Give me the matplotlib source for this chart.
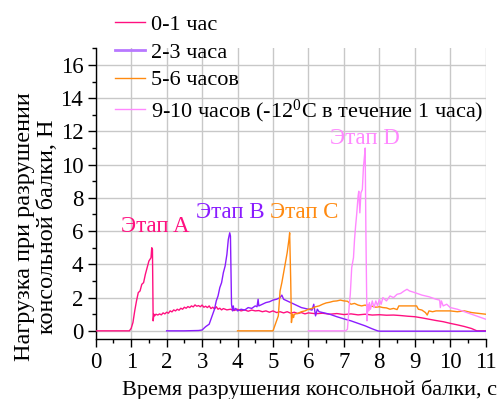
import matplotlib
matplotlib.use("Agg")
import matplotlib.pyplot as plt
from matplotlib.ticker import MultipleLocator

plt.rcParams['font.family'] = 'serif'
plt.rcParams['font.serif'] = ['Liberation Serif', 'Times New Roman', 'DejaVu Serif']
plt.rcParams['mathtext.fontset'] = 'custom'
plt.rcParams['mathtext.rm'] = 'Liberation Serif'
plt.rcParams['mathtext.default'] = 'regular'

labels = ["0-1 час", "2-3 часа", "5-6 часов", "9-10 часов (-12$^0$C в течение 1 часа)"]
colors = ["#ff1080", "#8a1cff", "#ff8a10", "#ff88ff"]
stage_labels = ["Этап A", "Этап B", "Этап C", "Этап D"]
stage_x = [1.68, 3.79, 5.89, 7.58]
stage_y = [6.3, 7.1, 7.1, 11.6]

x1 = [0, 0.95, 1.0, 1.05, 1.1, 1.15, 1.2, 1.25, 1.3, 1.35, 1.4, 1.45, 1.5, 1.53, 1.56, 1.58, 1.6, 1.62, 1.64, 1.66,
      1.7, 1.75, 1.8, 1.85, 1.9, 1.95, 2.0, 2.05, 2.1, 2.15, 2.2, 2.25, 2.3, 2.35, 2.4, 2.45, 2.5, 2.55, 2.6, 2.65,
      2.7, 2.75, 2.8, 2.85, 2.9, 2.95, 3.0, 3.05, 3.1, 3.15, 3.2, 3.25, 3.3, 3.35, 3.4, 3.45, 3.5, 3.55, 3.6, 3.7,
      3.8, 3.9, 4.0, 4.1, 4.2, 4.3, 4.4, 4.5, 4.6, 4.7, 4.8, 4.9, 5.0, 5.1, 5.2, 5.3, 5.4, 5.5, 5.6, 5.7, 5.8, 5.9,
      6.0, 6.2, 6.4, 6.6, 6.8, 7.0, 7.2, 7.4, 7.6, 7.8, 8.0, 8.2, 8.4, 8.6, 8.8, 9.0, 9.2, 9.4, 9.6, 9.8, 10.0,
      10.2, 10.4, 10.6, 10.75, 11.0]
y1 = [0, 0, 0.15, 0.5, 1.2, 1.8, 2.3, 2.4, 2.8, 2.9, 3.4, 3.8, 4.2, 4.3, 4.4, 5.0, 4.9, 0.6, 1.0, 0.9,
      1.0, 0.95, 1.02, 0.96, 1.08, 1.02, 1.12, 1.06, 1.2, 1.14, 1.26, 1.2, 1.3, 1.24, 1.36, 1.3, 1.42, 1.36, 1.46, 1.4,
      1.5, 1.44, 1.56, 1.48, 1.52, 1.45, 1.55, 1.42, 1.48, 1.4, 1.5, 1.34, 1.42, 1.32, 1.45, 1.3, 1.36, 1.26, 1.34, 1.26,
      1.3, 1.22, 1.3, 1.2, 1.26, 1.18, 1.25, 1.2, 1.22, 1.15, 1.2, 1.12, 1.2, 1.1, 1.15, 1.08, 1.15, 1.06, 1.12, 1.04, 1.1, 1.02,
      1.08, 1.03, 1.06, 1.0, 1.04, 0.98, 1.02, 0.96, 1.0, 0.95, 0.97, 0.94, 0.95, 0.92, 0.88, 0.85, 0.78, 0.7, 0.62, 0.55, 0.45,
      0.36, 0.26, 0.14, 0.0, 0.0]

x2 = [2.0, 2.5, 2.9, 3.0, 3.1, 3.2, 3.25, 3.3, 3.35, 3.4, 3.45, 3.5, 3.55, 3.6, 3.65, 3.7, 3.74, 3.78, 3.8, 3.83,
      3.86, 3.88, 3.9, 3.95, 4.0, 4.1, 4.2, 4.3, 4.4, 4.5, 4.55, 4.58, 4.6, 4.7, 4.8, 4.9, 5.0, 5.1, 5.2, 5.25,
      5.3, 5.4, 5.5, 5.6, 5.7, 5.8, 5.9, 6.0, 6.1, 6.15, 6.2, 6.25, 6.3, 6.4, 6.5, 6.6, 6.8, 7.0, 7.2, 7.4,
      7.6, 7.8, 7.95, 8.0, 9.0, 10.0, 11.0]
y2 = [0, 0, 0.02, 0.05, 0.25, 0.4, 0.7, 1.0, 1.3, 1.8, 2.1, 2.6, 2.9, 3.5, 3.9, 4.6, 5.5, 5.9, 5.7, 1.6,
      1.2, 1.5, 1.25, 1.35, 1.2, 1.3, 1.25, 1.4, 1.35, 1.5, 1.45, 1.9, 1.5, 1.6, 1.7, 1.75, 1.85, 1.9, 2.0, 2.15,
      1.9, 1.8, 1.7, 1.6, 1.5, 1.4, 1.35, 1.3, 1.25, 1.6, 0.9, 1.3, 1.15, 1.1, 1.05, 1.0, 0.85, 0.72, 0.6, 0.45,
      0.3, 0.12, 0.0, -0.02, -0.02, -0.02, -0.02]

x3 = [4.0, 5.0, 5.05, 5.1, 5.15, 5.2, 5.25, 5.3, 5.35, 5.4, 5.45, 5.47, 5.5, 5.52, 5.55, 5.58, 5.6, 5.7, 5.8, 5.9,
      6.0, 6.1, 6.2, 6.3, 6.4, 6.5, 6.6, 6.7, 6.8, 6.9, 7.0, 7.1, 7.2, 7.3, 7.4, 7.5, 7.6, 7.7, 7.8, 7.9,
      8.0, 8.1, 8.2, 8.3, 8.4, 8.5, 8.55, 8.7, 8.9, 9.05, 9.1, 9.2, 9.3, 9.35, 9.4, 9.5, 9.6, 9.8, 10.0, 10.2,
      10.4, 10.6, 10.8, 11.0]
y3 = [0, 0, 0.3, 0.6, 0.9, 2.4, 2.9, 3.5, 4.1, 4.7, 5.5, 5.9, 3.0, 0.5, 1.0, 0.8, 1.0, 1.05, 1.15, 1.2,
      1.3, 1.35, 1.45, 1.5, 1.6, 1.68, 1.72, 1.78, 1.8, 1.85, 1.8, 1.78, 1.6, 1.65, 1.55, 1.5, 1.55, 1.45, 1.48, 1.42,
      1.45, 1.4, 1.38, 1.3, 1.35, 1.28, 1.5, 1.5, 1.5, 1.5, 1.3, 1.25, 1.1, 0.95, 1.2, 1.15, 1.2, 1.2, 1.2, 1.15,
      1.2, 1.1, 1.05, 1.0]

x4 = [6.0, 7.05, 7.1, 7.15, 7.18, 7.22, 7.27, 7.3, 7.33, 7.36, 7.4, 7.42, 7.45, 7.48, 7.52, 7.55, 7.58, 7.6, 7.62, 7.65,
      7.68, 7.7, 7.72, 7.75, 7.8, 7.85, 7.9, 7.95, 8.0, 8.05, 8.1, 8.2, 8.3, 8.4, 8.5, 8.6, 8.7, 8.78, 8.85, 9.0,
      9.2, 9.4, 9.6, 9.7, 9.72, 9.75, 9.8, 9.9, 10.0, 10.2, 10.4, 10.6, 10.8, 11.0]
y4 = [0, 0, 0.1, 1.5, 2.2, 3.8, 4.4, 5.5, 6.3, 7.0, 8.1, 8.4, 7.1, 8.3, 8.5, 9.8, 10.5, 11.0, 6.0, 0.6,
      1.6, 1.2, 1.7, 1.3, 1.8, 1.4, 1.8, 1.5, 1.9, 1.6, 2.0, 1.8, 2.1, 2.0, 2.2, 2.25, 2.4, 2.5, 2.4, 2.3,
      2.15, 2.05, 1.9, 1.85, 1.4, 1.8, 1.5, 1.6, 1.4, 1.3, 1.15, 1.0, 0.85, 0.7]

fig = plt.figure(figsize=(4.97, 3.99), dpi=100)
ax = fig.add_axes([0.1926, 0.150, 0.7847, 0.729])

series = [(x1, y1), (x2, y2), (x3, y3), (x4, y4)]
lines = []
for (xs, ys), c, lab in zip(series, colors, labels):
    ln, = ax.plot(xs, ys, color=c, lw=1.0, label=lab, zorder=3)
    lines.append(ln)

for t, xx, yy, c in zip(stage_labels, stage_x, stage_y, colors):
    ax.text(xx, yy, t, color=c, fontsize=16.5, ha='center', va='center', zorder=4)

ax.set_xlim(0, 11)
ax.set_ylim(-0.5, 17)
ax.xaxis.set_major_locator(MultipleLocator(1))
ax.xaxis.set_minor_locator(MultipleLocator(0.5))
ax.yaxis.set_major_locator(MultipleLocator(2))
ax.yaxis.set_minor_locator(MultipleLocator(1))
ax.set_yticks(range(0, 17, 2))
ax.grid(True, which='major', color='#c8c8c8', lw=1.0, zorder=0)
ax.set_axisbelow(True)
for s in ['top', 'right']:
    ax.spines[s].set_visible(False)
for s in ['left', 'bottom']:
    ax.spines[s].set_linewidth(1.0)
ax.tick_params(which='major', direction='out', length=6, width=1, labelsize=16.5, pad=3)
ax.tick_params(which='minor', direction='out', length=3, width=1)

fig.text(0.0724, 0.431, "Нагрузка при разрушении\nконсольной балки, Н", fontsize=17.5,
         rotation=90, ha='center', va='center', linespacing=1.15, multialignment='center')
fig.text(0.245, 0.022, "Время разрушения консольной балки, с", fontsize=16, ha='left', va='center')

leg = fig.legend(handles=lines, loc='upper left', bbox_to_anchor=(0.213, 0.987), frameon=False,
                 fontsize=16, handlelength=1.35, handletextpad=0.27, labelspacing=0.33, borderaxespad=0.0)
leg.get_lines()[1].set_linewidth(2.0)
leg.get_lines()[1].set_color('#b878ff')

fig.savefig("out.png", dpi=100)
